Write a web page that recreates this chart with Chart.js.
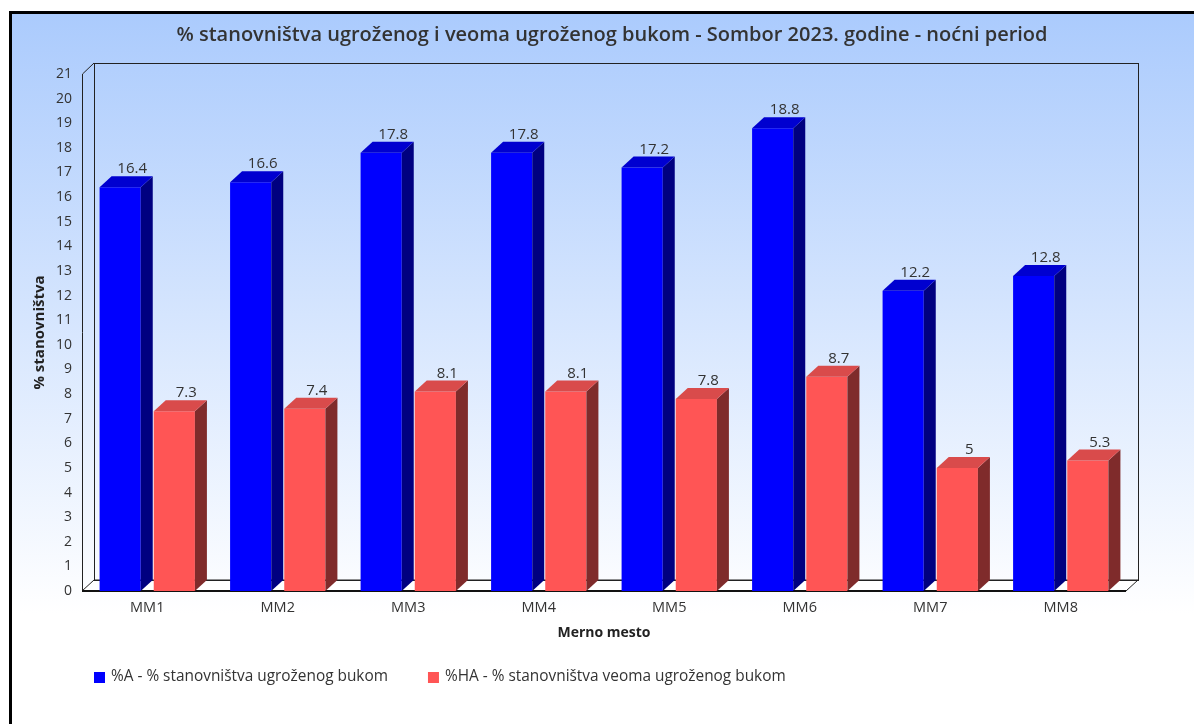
<!DOCTYPE html>
<html>
<head>
<meta charset="utf-8">
<title>Sombor 2023 - noćni period</title>
<script src="https://cdn.jsdelivr.net/npm/chart.js@4.4.1/dist/chart.umd.min.js"></script>
<style>
    html, body { margin: 0; padding: 0; background: #fff; overflow: hidden; }
    #frame {
        position: absolute; left: 9px; top: 11px; width: 1200px; height: 730px;
        border-left: 3px solid #000; border-top: 3px solid #000;
        background: linear-gradient(to bottom, #abcbfd 0px, #ffffff 600px, #ffffff 100%);
    }
    #noiseChart { position: absolute; left: 0; top: 0; }
</style>
</head>
<body>
<div id="frame"></div>
<canvas id="noiseChart" width="1194" height="724"></canvas>
<script>
    // Measuring points and values (% of population)
    var categories = ['MM1', 'MM2', 'MM3', 'MM4', 'MM5', 'MM6', 'MM7', 'MM8'];
    var annoyed = [16.4, 16.6, 17.8, 17.8, 17.2, 18.8, 12.2, 12.8];
    var highlyAnnoyed = [7.3, 7.4, 8.1, 8.1, 7.8, 8.7, 5, 5.3];
    var seriesNames = ['%A - % stanovništva ugroženog bukom', '%HA - % stanovništva veoma ugroženog bukom'];
    var yMin = 0, yMax = 21, yStep = 1;

    var DEPTH_X = 12, DEPTH_Y = 11;
    var FONT = "'Open Sans', sans-serif";

    // front / side / top colours for each series
    var faces = [
        { front: '#0000ff', side: '#000080', top: '#0000d0' },
        { front: '#ff5555', side: '#7f2b2b', top: '#d94b4b' }
    ];

    // floor, left wall and back wall of the 3D box
    var box3d = {
        id: 'box3d',
        beforeDatasetsDraw: function(chart) {
            var ctx = chart.ctx, a = chart.chartArea;
            var l = a.left, r = a.right, t = a.top, b = a.bottom;
            ctx.save();
            ctx.lineWidth = 1;
            ctx.strokeStyle = '#222';

            ctx.beginPath();
            ctx.moveTo(l, b);
            ctx.lineTo(r, b);
            ctx.lineTo(r + DEPTH_X, b - DEPTH_Y);
            ctx.lineTo(l + DEPTH_X, b - DEPTH_Y);
            ctx.closePath();
            ctx.fillStyle = '#fff';
            ctx.fill();
            ctx.stroke();

            ctx.strokeRect(Math.round(l + DEPTH_X) + 0.5, Math.round(t - DEPTH_Y) + 0.5, r - l, b - t);

            ctx.beginPath();
            ctx.moveTo(l + 0.5, b);
            ctx.lineTo(l + 0.5, t);
            ctx.lineTo(l + DEPTH_X, t - DEPTH_Y);
            ctx.stroke();

            ctx.lineWidth = 2;
            ctx.strokeStyle = '#111';
            ctx.beginPath();
            ctx.moveTo(l, b);
            ctx.lineTo(r, b);
            ctx.stroke();
            ctx.restore();
        },
        afterDatasetsDraw: function(chart) {
            var ctx = chart.ctx;
            ctx.save();
            chart.data.datasets.forEach(function(ds, i) {
                var meta = chart.getDatasetMeta(i);
                meta.data.forEach(function(bar, j) {
                    var p = bar.getProps(['x', 'y', 'base', 'width'], true);
                    var left = p.x - p.width / 2, right = p.x + p.width / 2;

                    // side face
                    ctx.fillStyle = faces[i].side;
                    ctx.beginPath();
                    ctx.moveTo(right, p.y);
                    ctx.lineTo(right + DEPTH_X, p.y - DEPTH_Y);
                    ctx.lineTo(right + DEPTH_X, p.base - DEPTH_Y);
                    ctx.lineTo(right, p.base);
                    ctx.closePath();
                    ctx.fill();

                    // top face
                    ctx.fillStyle = faces[i].top;
                    ctx.beginPath();
                    ctx.moveTo(left, p.y);
                    ctx.lineTo(left + DEPTH_X, p.y - DEPTH_Y);
                    ctx.lineTo(right + DEPTH_X, p.y - DEPTH_Y);
                    ctx.lineTo(right, p.y);
                    ctx.closePath();
                    ctx.fill();

                    // value label
                    ctx.fillStyle = '#333';
                    ctx.font = '15px ' + FONT;
                    ctx.textAlign = 'center';
                    ctx.textBaseline = 'alphabetic';
                    ctx.fillText(String(ds.data[j]), p.x + DEPTH_X, p.y - DEPTH_Y - 3);
                });
            });
            ctx.restore();
        },
        afterDraw: function(chart) {
            // legend row under the axis
            var ctx = chart.ctx;
            var x = 94, y = 677;
            ctx.save();
            ctx.font = '15.4px ' + FONT;
            ctx.textBaseline = 'middle';
            ctx.textAlign = 'left';
            chart.data.datasets.forEach(function(ds, i) {
                ctx.fillStyle = faces[i].front;
                ctx.fillRect(x, y - 5, 11, 11);
                ctx.fillStyle = '#333';
                ctx.fillText(ds.label, x + 17, y);
                x += 17 + ctx.measureText(ds.label).width + 40;
            });
            ctx.restore();
        }
    };

    var ctx = document.getElementById('noiseChart').getContext('2d');
    new Chart(ctx, {
        type: 'bar',
        data: {
            labels: categories,
            datasets: [
                {
                    label: seriesNames[0],
                    data: annoyed,
                    backgroundColor: faces[0].front,
                    borderWidth: 0
                },
                {
                    label: seriesNames[1],
                    data: highlyAnnoyed,
                    backgroundColor: faces[1].front,
                    borderWidth: 0
                }
            ]
        },
        options: {
            responsive: false,
            animation: false,
            devicePixelRatio: 1,
            barPercentage: 0.76,
            categoryPercentage: 0.83,
            layout: { padding: { left: 30, right: 0, top: 0, bottom: 0 } },
            plugins: {
                legend: { display: false },
                tooltip: { enabled: false },
                title: {
                    display: true,
                    text: '% stanovništva ugroženog i veoma ugroženog bukom - Sombor 2023. godine - noćni period',
                    color: '#333',
                    font: { family: FONT, size: 20, weight: '600' },
                    padding: { top: 23, bottom: 27 }
                }
            },
            scales: {
                x: {
                    grid: { display: false, drawTicks: false },
                    border: { display: false },
                    ticks: { color: '#333', font: { family: FONT, size: 14.5 }, padding: 8 },
                    title: {
                        display: true,
                        text: 'Merno mesto',
                        color: '#222',
                        font: { family: FONT, size: 14, weight: 'bold' },
                        padding: { top: 0, bottom: 83 }
                    },
                    afterFit: function(scale) { scale.height = 133; }
                },
                y: {
                    min: yMin,
                    max: yMax,
                    grid: { display: false, drawTicks: false },
                    border: { display: false },
                    ticks: { stepSize: yStep, color: '#333', font: { family: FONT, size: 14 }, padding: 10 },
                    title: {
                        display: true,
                        text: '% stanovništva',
                        color: '#222',
                        font: { family: FONT, size: 15, weight: 'bold' },
                        padding: { top: 1, bottom: 0 }
                    },
                    afterFit: function(scale) { scale.width = 52; }
                },
                // empty axis that keeps room on the right side
                spacer: {
                    type: 'linear',
                    position: 'right',
                    grid: { display: false, drawTicks: false },
                    border: { display: false },
                    ticks: { display: false },
                    afterFit: function(scale) { scale.width = 68; }
                }
            }
        },
        plugins: [box3d]
    });
</script>
</body>
</html>
